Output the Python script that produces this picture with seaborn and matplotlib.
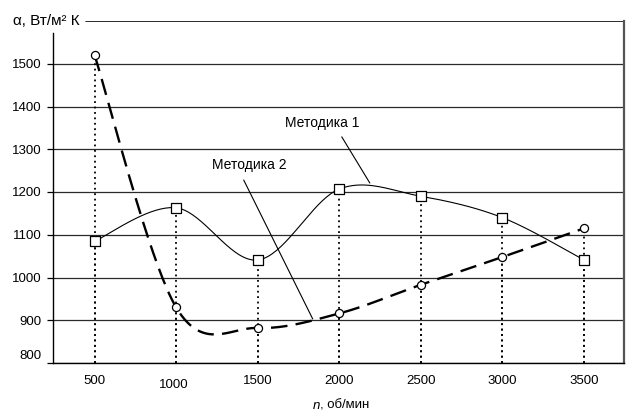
import numpy as np
import pandas as pd
import matplotlib
matplotlib.use("Agg")
import matplotlib.pyplot as plt
import seaborn as sns
from matplotlib import transforms

# ---- data ----
rpm = [500, 1000, 1500, 2000, 2500, 3000, 3500]
method1 = [1085, 1163, 1041, 1207, 1190, 1140, 1041]
method2 = [1520, 930, 882, 916, 983, 1048, 1115]
y_ticks = [800, 900, 1000, 1100, 1200, 1300, 1400, 1500]
x_ticks = rpm
label1 = "Методика 1"
label2 = "Методика 2"
y_label = "α, Вт/м² К"
x_label_var = "n"
x_label_unit = ", об/мин"

sns.set_theme(style="white")
plt.rcParams["font.family"] = ["Liberation Sans", "DejaVu Sans"]
plt.rcParams["text.color"] = "black"
FS = 9.5

fig = plt.figure(figsize=(6.27, 4.16), dpi=100)
ax = fig.add_axes([53 / 627, 1 - 363 / 416, 571 / 627, 342 / 416])
ax.set_xlim(245, 3745)
ax.set_ylim(800, 1600)

# pixel scale (for screen-space smoothing like a spreadsheet "smoothed line")
SX = 81.5 / 500.0
SY = 42.75 / 100.0


def smooth(xs, ys, n=40):
    P = np.column_stack([np.asarray(xs, float) * SX, np.asarray(ys, float) * SY])
    Q = np.vstack([P[0], P, P[-1]])
    out = []
    for i in range(len(P) - 1):
        p0, p1, p2, p3 = Q[i], Q[i + 1], Q[i + 2], Q[i + 3]
        c1 = p1 + (p2 - p0) / 6.0
        c2 = p2 - (p3 - p1) / 6.0
        t = np.linspace(0, 1, n)[:, None]
        seg = ((1 - t) ** 3) * p1 + 3 * ((1 - t) ** 2) * t * c1 + 3 * (1 - t) * t ** 2 * c2 + t ** 3 * p2
        out.append(seg if i == 0 else seg[1:])
    S = np.vstack(out)
    return S[:, 0] / SX, S[:, 1] / SY


# grid lines
ax.set_yticks(y_ticks)
ax.yaxis.grid(True, color="#2a2a2a", lw=0.9, zorder=0.5)
ax.set_axisbelow(True)
ax.axhline(1600, xmin=(86 - 53) / 571, xmax=1, color="#1a1a1a", lw=1.3, zorder=0.5)

# drop lines
for xv, a, b in zip(rpm, method1, method2):
    ax.vlines(xv, 800, a, colors="black", linestyles=(0, (1, 2)), lw=1.3, zorder=1)
    ax.vlines(xv, 800, b, colors="black", linestyles=(0, (1, 2)), lw=1.3, zorder=1)

# curves
sx1, sy1 = smooth(rpm, method1)
sx2, sy2 = smooth(rpm, method2)
df1 = pd.DataFrame({"x": sx1, "y": sy1})
df2 = pd.DataFrame({"x": sx2, "y": sy2})
sns.lineplot(data=df1, x="x", y="y", sort=False, estimator=None, ax=ax,
             color="black", lw=0.8, zorder=3)
sns.lineplot(data=df2, x="x", y="y", sort=False, estimator=None, ax=ax,
             color="black", lw=1.7, linestyle=(0, (7, 3.5)), zorder=3)

# markers
sns.scatterplot(x=rpm, y=method2, marker="o", s=34, facecolor="white",
                edgecolor="black", linewidth=0.9, ax=ax, zorder=4)
sns.scatterplot(x=rpm, y=method1, marker="s", s=44, facecolor="white",
                edgecolor="black", linewidth=0.9, ax=ax, zorder=4)

# annotations
ax.text(1893, 1361, label1, ha="center", va="center", fontsize=10, color="black")
ax.annotate("", xy=(2187, 1221), xytext=(2015, 1329),
            arrowprops=dict(arrowstyle="-", lw=0.8, color="black", shrinkA=0, shrinkB=0))
ax.text(1451, 1263, label2, ha="center", va="center", fontsize=10, color="black")
ax.annotate("", xy=(1837, 903), xytext=(1414, 1228),
            arrowprops=dict(arrowstyle="-", lw=0.8, color="black", shrinkA=0, shrinkB=0))

# axes styling
ax.set_xticks(x_ticks)
ax.set_xticklabels([str(v) for v in x_ticks], fontsize=FS)
ax.set_yticklabels([str(v) for v in y_ticks], fontsize=FS)
ax.tick_params(axis="x", length=0, pad=9, colors="black")
ax.tick_params(axis="y", length=4, width=0.9, pad=4, colors="black", left=True)
ax.set_xlabel("")
ax.set_ylabel("")

ax.spines["top"].set_visible(False)
for s in ["left", "bottom"]:
    ax.spines[s].set_color("black")
    ax.spines[s].set_linewidth(1.0)
ax.spines["right"].set_color("#555555")
ax.spines["right"].set_linewidth(1.6)
ax.spines["left"].set_bounds(800, 1572)

# quirky label offsets
for lab in ax.get_yticklabels():
    if lab.get_text() == "800":
        lab.set_transform(lab.get_transform() + transforms.ScaledTranslation(0, 6 / 72, fig.dpi_scale_trans))
for lab in ax.get_xticklabels():
    if lab.get_text() == "1000":
        lab.set_transform(lab.get_transform() + transforms.ScaledTranslation(-2 / 72, -2.5 / 72, fig.dpi_scale_trans))

# axis titles
fig.text(13 / 627, 1 - 21 / 416, y_label, ha="left", va="center", fontsize=11, color="black")
t1 = ax.annotate(x_label_var, xy=(313 / 627, 1 - 406 / 416), xycoords="figure fraction",
                 ha="left", va="center", fontsize=FS, style="italic", annotation_clip=False)
ax.annotate(x_label_unit, xy=(1, 0.5), xycoords=t1, ha="left", va="center",
            fontsize=FS, annotation_clip=False)

fig.savefig("out.png", dpi=100)
